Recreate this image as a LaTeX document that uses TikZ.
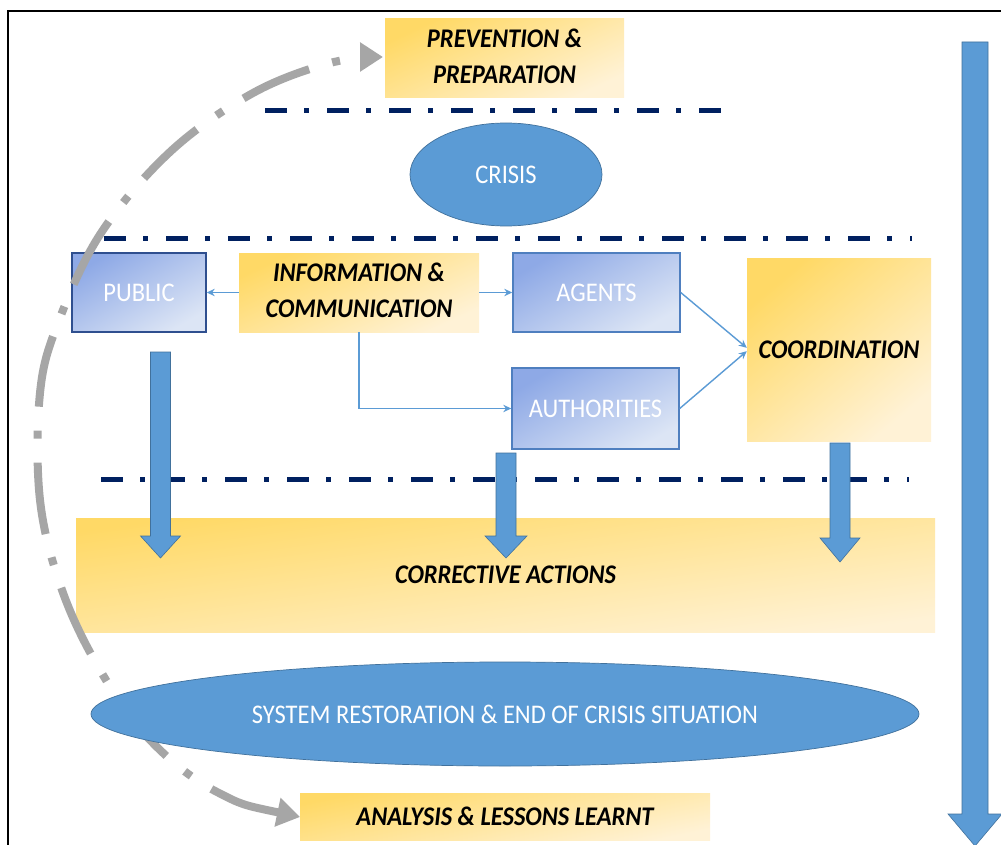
\documentclass[tikz,border=0pt]{standalone}
\usepackage{fontspec}
\setmainfont{Carlito}
\usetikzlibrary{arrows.meta,shapes.geometric}
\definecolor{navy}{HTML}{002060}
\definecolor{ablue}{HTML}{5B9BD5}
\definecolor{ablueb}{HTML}{41719C}
\definecolor{ylA}{HTML}{FFD966}
\definecolor{ylB}{HTML}{FFF2D6}
\definecolor{blA}{HTML}{8EA9E6}
\definecolor{blB}{HTML}{DCE5F5}
\definecolor{pubb}{HTML}{2F4F8F}
\definecolor{agb}{HTML}{4F7FBF}
\definecolor{arcgray}{HTML}{A6A6A6}
\newcommand{\vst}[1]{\scalebox{1}[1.1]{#1}}
\tikzset{
  sz/.style 2 args={minimum width=#1*0.03cm, minimum height=#2*0.03cm, inner sep=0pt},
  ybox/.style={rectangle, top color=ylA, bottom color=ylB, shading angle=#1,
     font=\fontsize{20.9}{28}\selectfont\bfseries\itshape, align=center, text=black},
  ybox/.default=25,
  bbox/.style={rectangle, top color=blA, bottom color=blB, shading angle=30,
     draw=#1, line width=1.2pt, font=\fontsize{20.9}{25}\selectfont, text=white},
  bell/.style={ellipse, fill=ablue, draw=ablueb, line width=0.6pt,
     font=\fontsize{20.9}{25}\selectfont, text=white},
  navyline/.style={navy, line width=0.15cm, dash pattern=on 0.66cm off 0.52cm on 0.15cm off 0.53cm},
  conn/.style={ablue, line width=1.2pt, -{Stealth[length=0.24cm,width=0.22cm]}},
  blockarrow/.style={fill=ablue, draw=ablueb, line width=0.5pt},
  grayarc/.style={arcgray, line width=0.24cm, dash pattern=on 2.16cm off 0.72cm on 0.24cm off 0.72cm,
     {Triangle[length=0.69cm,width=0.84cm]}-{Triangle[length=0.69cm,width=0.84cm]}}
}
\newcommand{\barrow}[6]{%
  \filldraw[blockarrow] ({#1-#5},#2) -- ({#1+#5},#2) -- ({#1+#5},#3) -- ({#1+#6},#3)
    -- (#1,#4) -- ({#1-#6},#3) -- ({#1-#5},#3) -- cycle;}
\begin{document}
\begin{tikzpicture}[x=0.03cm,y=-0.03cm]
\useasboundingbox (0,0) rectangle (1001,845);
\clip (0,0) rectangle (1001,845);
\fill[white] (0,0) rectangle (1001,845);
% frame
\draw[black, line width=0.06cm] (8,11) rectangle (1020,870);
% navy separators
\coordinate (l1a) at (265,111); \coordinate (l1b) at (724,111);
\coordinate (l2a) at (104,238); \coordinate (l2b) at (912,238);
\coordinate (l3a) at (101,479); \coordinate (l3b) at (909,479);
\draw[navyline] (l1a) -- (l1b);
\draw[navyline] (l2a) -- (l2b);
\draw[navyline] (l3a) -- (l3b);
% nodes
\node[ybox, sz={239}{79}] (prev) at (504.5,58.5) {\vst{\begin{tabular}{@{}c@{}}PREVENTION \&\\PREPARATION\end{tabular}}};
\node[bell, sz={192}{103}] (crisis) at (506,174.5) {\vst{CRISIS}};
\node[bbox=pubb, sz={134}{79}] (public) at (139,292.5) {\vst{PUBLIC}};
\node[ybox, sz={240}{79}] (info) at (359,292.5) {\vst{\begin{tabular}{@{}c@{}}INFORMATION \&\\COMMUNICATION\end{tabular}}};
\node[bbox=agb, sz={167}{79}] (agents) at (596.5,292.5) {\vst{AGENTS}};
\node[bbox=agb, sz={167}{81}] (auth) at (595.5,408.5) {\vst{AUTHORITIES}};
\node[ybox=40, sz={184}{183}] (coord) at (839,349.5) {\vst{COORDINATION}};
% connectors
\draw[conn] (info.west) -- (public.east);
\draw[conn] (info.east) -- (agents.west);
\draw[conn] (info.south) |- (auth.west);
\draw[conn] (agents.east) -- ([yshift=0.05cm]coord.west);
\draw[conn] (auth.east) -- ([yshift=-0.05cm]coord.west);
% corrective box
\node[ybox=8, sz={859}{114}] (corr) at (505.5,575) {\vst{CORRECTIVE ACTIONS}};
% gray cycle arc
\draw[grayarc] plot[smooth, tension=0.6] coordinates {(300,817) (217,792) (150,740) (100,670) (62,590) (40,500) (40,393) (58,323) (101,233) (171,151) (253,93) (330,63) (383,57)};
% block arrows
\barrow{160.5}{352}{536}{558}{10}{20}
\barrow{506}{453}{536}{558}{10}{21}
\barrow{840}{443}{538}{562}{10}{20}
% restoration & analysis
\node[bell, sz={828}{104}] (rest) at (505,714) {\vst{SYSTEM RESTORATION \& END OF CRISIS SITUATION}};
\node[ybox=12, sz={410}{47}] (anal) at (505,816.5) {\vst{ANALYSIS \& LESSONS LEARNT}};
% timeline arrow
\barrow{975}{42}{814}{846}{13}{27}
\end{tikzpicture}
\end{document}
